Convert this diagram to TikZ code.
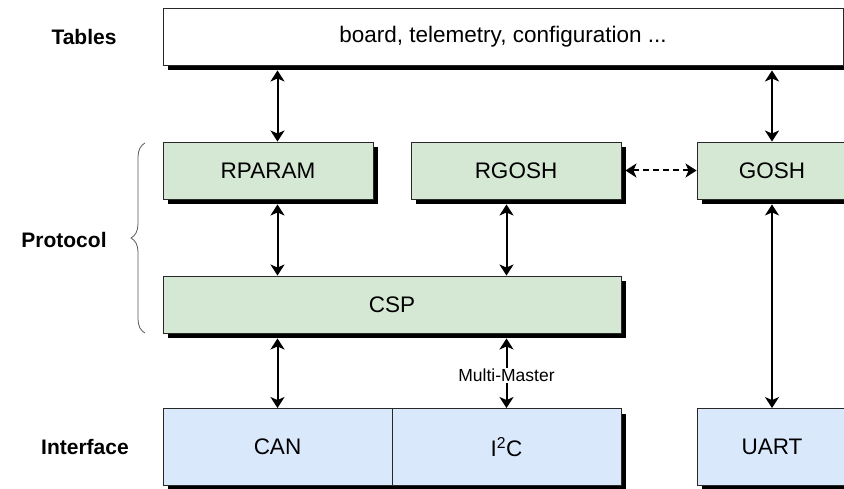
\documentclass[tikz,border=0pt]{standalone}
\usepackage{fontspec}
\setmainfont{Liberation Sans}
\usepackage{tikz}
\usetikzlibrary{arrows,arrows.meta,shapes,positioning,shadows,decorations.pathreplacing}
\definecolor{protgreen}{RGB}{213,232,212}
\definecolor{ifblue}{RGB}{218,232,252}
\definecolor{edgegray}{RGB}{40,40,40}
\tikzstyle{arrow} = [line width=2pt,<->,>={Stealth[length=11pt,width=14pt,inset=3pt]}]
\tikzstyle{layerbox} = [rectangle, draw=edgegray, line width=0.9pt, text centered, font=\fontsize{22.5}{27}\selectfont, drop shadow={shadow xshift=4.5pt, shadow yshift=-5pt, opacity=1, fill=black}]
\tikzstyle{protbox} = [layerbox, fill=protgreen, minimum height=57pt]
\tikzstyle{ifbox} = [layerbox, fill=ifblue, minimum height=77pt]
\tikzstyle{layerlabel} = [font=\fontsize{21}{25}\selectfont\bfseries]

\begin{document}
\begin{tikzpicture}[x=1pt,y=-1pt]
\useasboundingbox (0,0) rectangle (844,489);
% Tables
\node[layerbox, fill=white, minimum width=680pt, minimum height=57pt] (tables) at (503,36.5) {board, telemetry, configuration ...};

% Protocol
\node[protbox, minimum width=210pt] (rparam) at (268,170.5) {RPARAM};
\node[protbox, minimum width=210pt] (rgosh) at (516,170.5) {RGOSH};
\node[protbox, minimum width=150pt] (gosh) at (772,170.5) {GOSH};
\node[protbox, minimum width=458pt] (csp) at (392,304.5) {CSP};

% Interface
\node[ifbox, minimum width=229pt] (can) at (277.5,447) {CAN};
\node[ifbox, minimum width=229pt] (i2c) at (506.5,447) {I\textsuperscript{2}C};
\node[ifbox, minimum width=150pt] (uart) at (772,447) {UART};

% Layer names
\node[layerlabel] (tableslbl) at (84,36.5) {Tables};
\node[layerlabel] (protlbl) at (64,240) {Protocol};
\node[layerlabel] (iflbl) at (85,447) {Interface};
\draw[decorate, decoration={brace, amplitude=14pt}, draw=gray!70!black, line width=0.8pt] (145,333) -- (145,143);

% Arrows
\draw[arrow, shorten <=5pt] (tables.south -| can) -- (rparam.north -| can);
\draw[arrow, shorten <=5pt] (tables.south -| gosh) -- (gosh.north);
\draw[arrow, shorten <=5pt] (rparam.south -| can) -- (csp.north -| can);
\draw[arrow, shorten <=5pt] (rgosh.south -| i2c) -- (csp.north -| i2c);
\draw[arrow, dash pattern=on 6pt off 4pt, shorten <=4pt] (rgosh.east) -- (gosh.west);
\draw[arrow, shorten <=5pt] (csp.south -| can) -- (can.north);
\draw[arrow, shorten <=5pt] (csp.south -| i2c) -- node[pos=0.56, fill=white, inner sep=1pt, font=\fontsize{17.5}{21}\selectfont] (mmlbl) {Multi-Master} (i2c.north);
\draw[arrow, line width=1.2pt, shorten <=5pt] (gosh.south) -- (uart.north);
\end{tikzpicture}
\end{document}
